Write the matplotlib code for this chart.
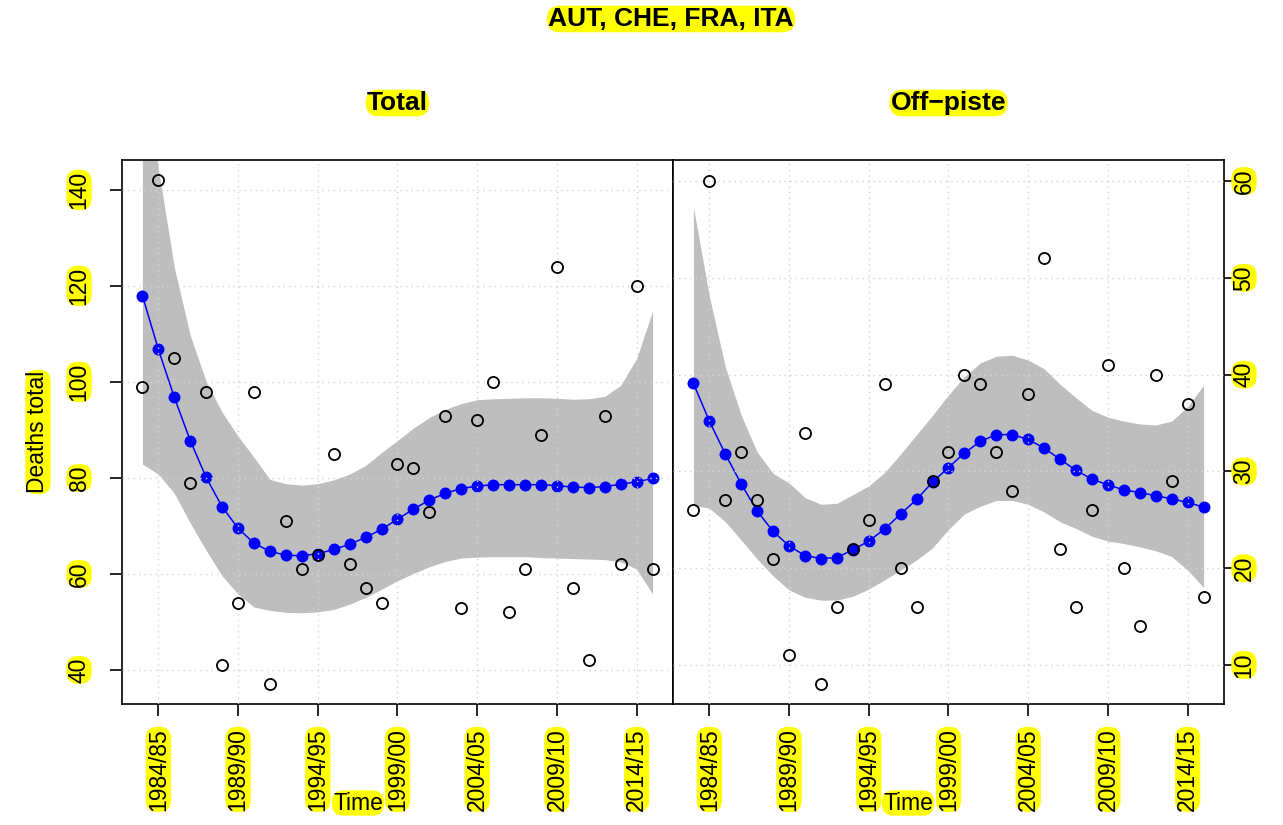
import numpy as np
import matplotlib
matplotlib.use("Agg")
import matplotlib.pyplot as plt

plt.rcParams['font.family'] = ['Liberation Sans', 'DejaVu Sans']

# winter seasons, indexed by starting year (1983 -> 1983/84)
seasons = np.arange(1983, 2016)
tick_years = [1984, 1989, 1994, 1999, 2004, 2009, 2014]
tick_labels = ["1984/85", "1989/90", "1994/95", "1999/00", "2004/05", "2009/10", "2014/15"]

# all avalanche deaths
total_obs = [99, 142, 105, 79, 98, 41, 54, 98, 37, 71, 61, 64, 85, 62, 57, 54,
             83, 82, 73, 93, 53, 92, 100, 52, 61, 89, 124, 57, 42, 93, 62, 120, 61]
total_fit = [118, 106.8, 96.8, 87.8, 80.1, 74.0, 69.5, 66.4, 64.7, 63.9, 63.8, 64.2, 65.1, 66.2, 67.6, 69.3,
             71.4, 73.5, 75.4, 76.8, 77.8, 78.3, 78.6, 78.6, 78.6, 78.6, 78.4, 78.1, 78.0, 78.2, 78.7, 79.2, 79.9]
total_hi = [170, 144.5, 123.9, 109.7, 100.1, 93.7, 88.7, 84.3, 79.7, 78.8, 78.5, 78.8, 79.6, 80.8, 82.6, 85.3,
            87.8, 90.4, 92.6, 94.3, 95.5, 96.3, 96.5, 96.6, 96.7, 96.7, 96.6, 96.4, 96.5, 97.0, 99.3, 104.9, 114.8]
total_lo = [82.9, 80.8, 76.8, 70.6, 64.9, 59.6, 55.8, 53.1, 52.4, 52.0, 51.9, 52.1, 52.6, 53.7, 55.1, 56.8,
            58.6, 60.1, 61.5, 62.6, 63.3, 63.5, 63.6, 63.6, 63.6, 63.4, 63.3, 63.2, 63.1, 63.0, 62.5, 61.0, 55.8]

# off-piste deaths
off_obs = [26, 60, 27, 32, 27, 21, 11, 34, 8, 16, 22, 25, 39, 20, 16, 29,
           32, 40, 39, 32, 28, 38, 52, 22, 16, 26, 41, 20, 14, 40, 29, 37, 17]
off_fit = [39.1, 35.2, 31.8, 28.7, 25.9, 23.8, 22.3, 21.3, 21.0, 21.1, 21.9, 22.8, 24.05, 25.6, 27.1, 28.9,
           30.4, 31.9, 33.1, 33.8, 33.8, 33.3, 32.4, 31.25, 30.1, 29.2, 28.6, 28.1, 27.8, 27.5, 27.15, 26.8, 26.3]
off_hi = [57.3, 48.1, 40.8, 35.8, 32.0, 29.8, 28.8, 27.3, 26.6, 26.7, 27.6, 28.5, 29.9, 31.8, 33.8, 35.8,
          37.9, 39.8, 41.2, 41.9, 42.0, 41.5, 40.6, 39.0, 37.6, 36.3, 35.6, 35.2, 34.9, 34.8, 35.2, 36.7, 38.9]
off_lo = [26.5, 26.2, 24.8, 22.9, 20.95, 19.2, 17.75, 17.0, 16.7, 16.7, 17.1, 17.85, 18.8, 19.8, 20.85, 22.1,
          24.0, 25.6, 26.4, 27.0, 27.0, 26.6, 25.8, 24.8, 24.1, 23.3, 22.8, 22.55, 22.2, 21.8, 21.2, 19.8, 18.0]

# yellow pill behind every piece of text
YEL = dict(boxstyle="round,pad=0.05,rounding_size=0.5", fc="yellow", ec="none")
FS = 16.5
PX = 72 / 100  # one pixel in points at 100 dpi


def panel(ax, obs, fit, lo, hi, yticks, ylim, side):
    ax.fill_between(seasons, lo, hi, color="#BEBEBE", lw=0, zorder=1)
    ax.plot(seasons, fit, "-", color="blue", lw=1.1, zorder=2)
    ax.plot(seasons, fit, "o", color="blue", ms=8.6, mew=0, zorder=2)
    ax.plot(seasons, obs, "o", mfc="none", mec="black", ms=8, mew=1.3, zorder=3)
    ax.set_xlim(1981.72, 2016.28)
    ax.set_ylim(*ylim)
    ax.set_xticks(tick_years)
    ax.set_xticklabels(tick_labels, rotation=90, fontsize=FS, va="top")
    ax.set_yticks(yticks)
    ax.set_yticklabels([str(v) for v in yticks], rotation=90, fontsize=FS,
                       va="center", ha="center")
    ax.tick_params(axis="both", direction="out", length=12 * PX, width=1.2)
    ax.tick_params(axis="x", pad=12 * PX)
    if side == "right":
        ax.yaxis.tick_right()
        ax.tick_params(axis="y", pad=8 * PX)
    else:
        ax.tick_params(axis="y", pad=31 * PX)
    ax.set_axisbelow(False)
    ax.grid(True, color="#D3D3D3", ls=(0, (1, 3)), lw=1)
    for s in ax.spines.values():
        s.set_linewidth(1.2)
    for lbl in ax.get_xticklabels() + ax.get_yticklabels():
        lbl.set_bbox(YEL)


fig = plt.figure(figsize=(12.83, 8.25), dpi=100)
ax1 = fig.add_axes([122 / 1283, 1 - 704 / 825, 551 / 1283, 544 / 825])
ax2 = fig.add_axes([673 / 1283, 1 - 704 / 825, 551 / 1283, 544 / 825])

panel(ax1, total_obs, total_fit, total_lo, total_hi, [40, 60, 80, 100, 120, 140],
      (32.9, 146.25), "left")
panel(ax2, off_obs, off_fit, off_lo, off_hi, [10, 20, 30, 40, 50, 60],
      (5.97, 62.17), "right")

fig.text(671 / 1283, 1 - 19 / 825, "AUT, CHE, FRA, ITA", ha="center", va="center",
         fontsize=19, fontweight="bold", bbox=YEL)
fig.text(397.5 / 1283, 1 - 103 / 825, "Total", ha="center", va="center",
         fontsize=19, fontweight="bold", bbox=YEL)
fig.text(948.5 / 1283, 1 - 103 / 825, "Off\u2212piste", ha="center", va="center",
         fontsize=19, fontweight="bold", bbox=YEL)
fig.text(38 / 1283, 1 - 432 / 825, "Deaths total", rotation=90, ha="center", va="center",
         fontsize=FS, bbox=YEL)
fig.text(358 / 1283, 1 - 803 / 825, "Time", ha="center", va="center", fontsize=FS, bbox=YEL)
fig.text(908 / 1283, 1 - 803 / 825, "Time", ha="center", va="center", fontsize=FS, bbox=YEL)

fig.savefig("out.png", dpi=100)
